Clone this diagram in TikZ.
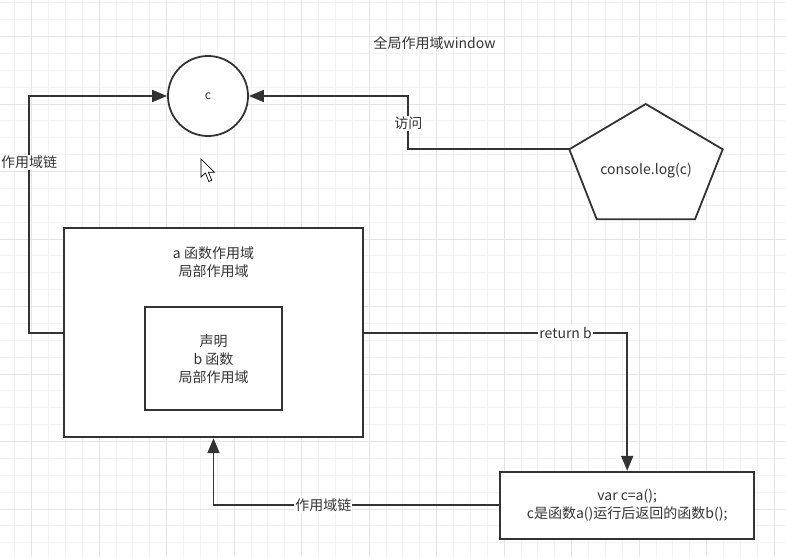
\documentclass[tikz,border=0pt]{standalone}
\usepackage{fontspec}
\setmainfont{Noto Sans CJK SC}
\usetikzlibrary{arrows.meta}
\definecolor{ln}{HTML}{333333}
\definecolor{tx}{HTML}{333333}
\definecolor{gmin}{HTML}{F2F2F2}
\definecolor{gmaj}{HTML}{E4E4E4}
\begin{document}
\begin{tikzpicture}[x=1pt,y=-1pt,
  every node/.style={font=\fontsize{14}{18}\selectfont, text=tx},
  box/.style={draw=ln, line width=1.8pt, fill=white, inner sep=0pt, align=center},
  conn/.style={draw=ln, line width=1.8pt},
  arr/.style={conn, -{Triangle[length=15pt,width=12pt]}},
  lbl/.style={fill=white, inner sep=1pt}]
\useasboundingbox (0,0) rectangle (786,557);
\fill[white] (0,0) rectangle (786,557);
% grid
\foreach \i in {0,...,45} { \draw[gmin, line width=1pt] ({14.8+\i*16.875},0) -- ++(0,557); }
\foreach \i in {0,...,32} { \draw[gmin, line width=1pt] (0,{2.75+\i*16.875}) -- ++(786,0); }
\foreach \i in {0,...,11} { \draw[gmaj, line width=1pt] ({31.7+\i*67.5},0) -- ++(0,557); }
\foreach \i in {0,...,7} { \draw[gmaj, line width=1pt] (0,{36.5+\i*67.5}) -- ++(786,0); }

% title
\node (t) at (434.5,43.3) {全局作用域window};

% circle c
\node[box, circle, minimum size=80pt] (c) at (208,96) {\fontsize{12}{14}\selectfont c};

% pentagon
\draw[conn, fill=white, line join=miter] (645.7,104) -- (722.7,149.3) -- (695,219.3) -- (596.7,219.3) -- (569.3,149.3) coordinate (pl) -- cycle;
\node (p) at (646,170.7) {console.log(c)};

% box a
\node[box, minimum width=299pt, minimum height=209pt] (a) at (213.5,332.8) {};
\node[align=center] (at) at (213.5,262) {a 函数作用域\\局部作用域};

% box b
\node[box, minimum width=137pt, minimum height=103pt] (b) at (213.5,358.7) {声明\\b 函数\\局部作用域};

% box c
\node[box, minimum width=254pt, minimum height=67pt] (cb) at (627.2,505.2) {var c=a();\\c是函数a()运行后返回的函数b();};

% connectors
\draw[arr] (a.west) -- ++(-34,0) |- node[lbl,pos=0.36] {作用域链} (c.west);
\draw[arr] (pl) -- ++(-161,0) |- node[lbl,pos=0.245] {访问} (c.east);
\draw[arr] (a.east) -| node[lbl,pos=0.383] {return b} (cb.north);
\draw[arr] (cb.west) -| node[lbl,pos=0.308] {作用域链} (a.south);

% mouse cursor
\draw[black, fill=white, line width=0.7pt, line join=miter] (201,159) -- (201,177) -- (205.5,173) -- (208.8,181.5) -- (211.8,180.2) -- (208.5,172.3) -- (214.5,172.3) -- cycle;
\end{tikzpicture}
\end{document}
